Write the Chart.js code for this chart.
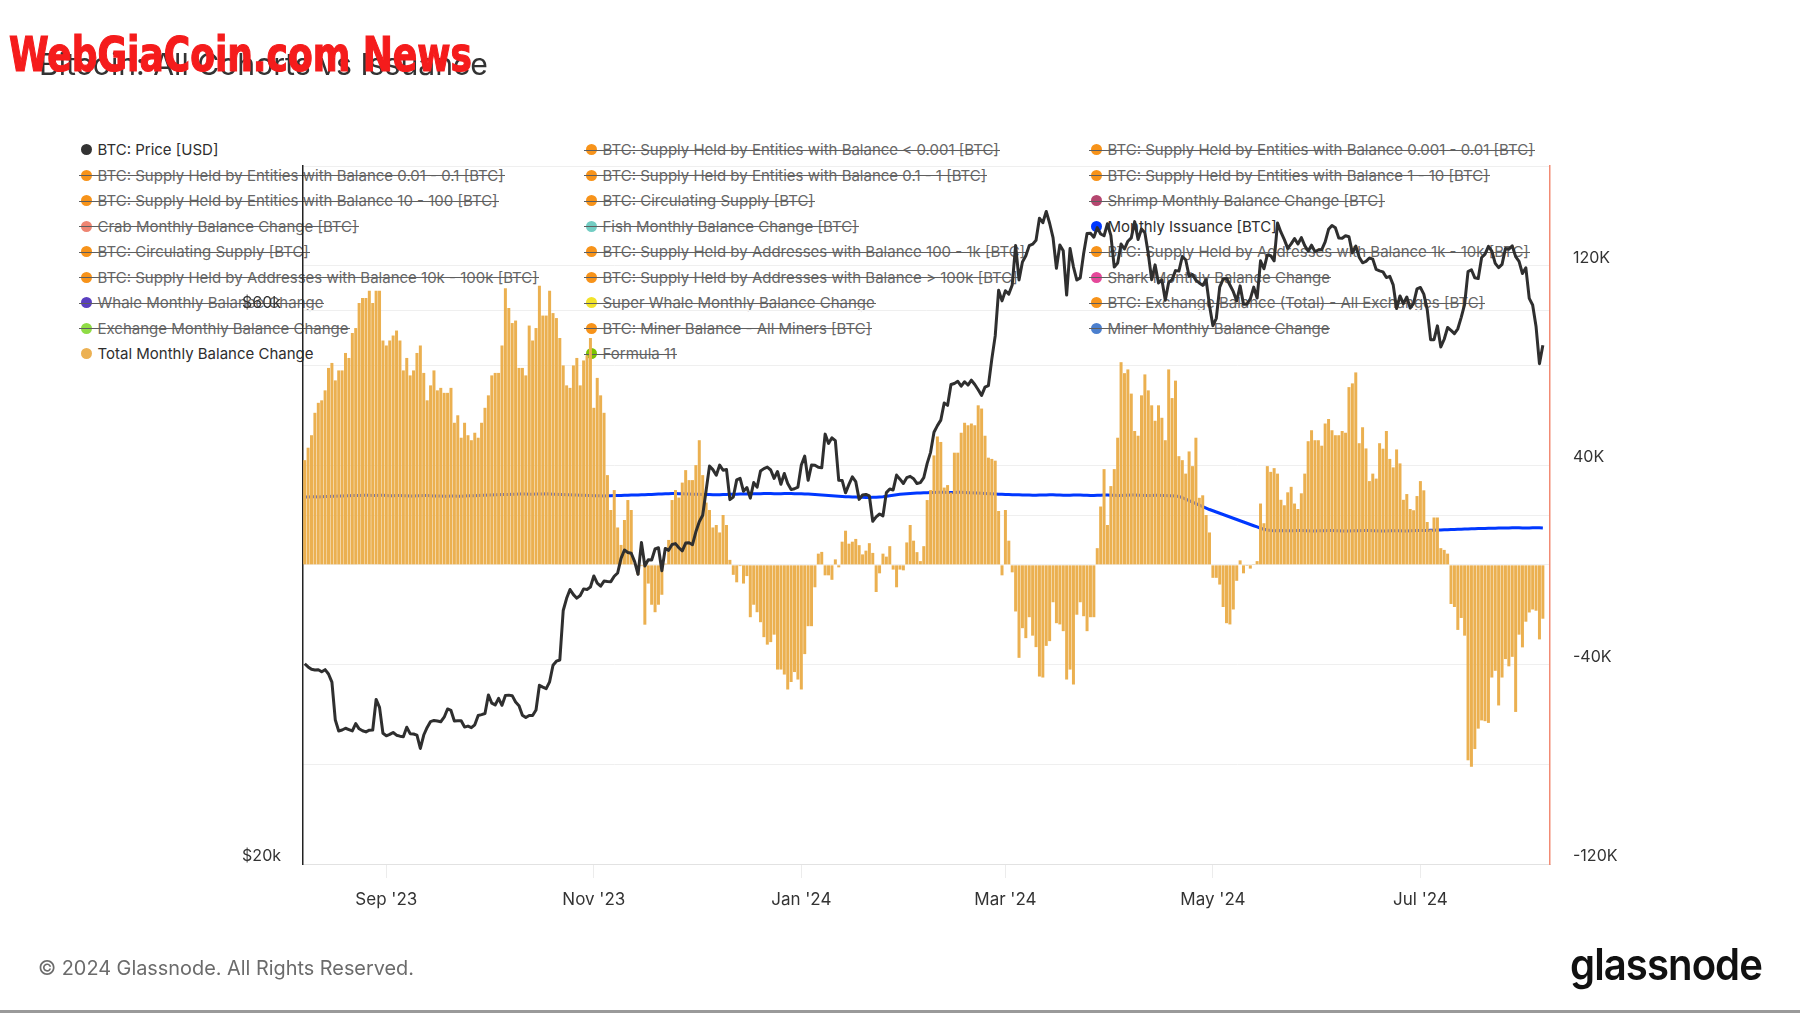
<!DOCTYPE html>
<html>
<head>
<meta charset="utf-8">
<title>Bitcoin: All Cohorts vs Issuance</title>
<script src="https://cdn.jsdelivr.net/npm/chart.js@4.4.1/dist/chart.umd.min.js"></script>
<style>
  html, body { margin: 0; padding: 0; background: #fff; }
  #page { position: relative; width: 1800px; height: 1013px; overflow: hidden; font-family: Inter, 'Noto Sans', sans-serif; }
  #legend { position: absolute; left: 0; top: 0; z-index: 1; }
  #chartBox { position: absolute; left: 0; top: 0; width: 1800px; height: 1013px; z-index: 2; }
  .item { position: absolute; height: 20px; display: flex; align-items: center; font-size: 15px; white-space: nowrap; color: #2e2e2e; }
  .item .dot { width: 11px; height: 11px; border-radius: 50%; margin-right: 6px; flex: none; }
  .item.off { color: #676767; }
  .item.off::after { content: ''; position: absolute; left: -2px; right: -1px; top: 10px; height: 1px; background: #5e5e5e; }
  #title { position: absolute; left: 39px; top: 49px; font-size: 30px; line-height: 30px; color: #333; white-space: nowrap; z-index: 3; }
  #watermark { position: absolute; left: 9px; top: 30px; font-family: 'Liberation Sans Narrow', 'DejaVu Sans Condensed', sans-serif; font-weight: bold; font-size: 48px; line-height: 48px; color: #f51c1c; -webkit-text-stroke: 1.2px #f51c1c; white-space: nowrap; transform-origin: left top; z-index: 4; }
  #footer { position: absolute; left: 38px; top: 958px; font-size: 20px; line-height: 20px; color: #6b6b6b; white-space: nowrap; z-index: 3; }
  #logo { position: absolute; left: 1570px; top: 942px; font-size: 44px; line-height: 44px; font-weight: 600; letter-spacing: -1px; color: #111; white-space: nowrap; transform-origin: left top; z-index: 3; }
  #bottomRule { position: absolute; left: 0; top: 1010px; width: 1800px; height: 3px; background: #9a9a9a; }
</style>
</head>
<body>
<div id="page">
  <div id="legend"></div>
  <div id="chartBox"><canvas id="myChart" width="1800" height="1013"></canvas></div>
  <div id="title">Bitcoin: All Cohorts vs Issuance</div>
  <div id="watermark">WebGiaCoin.com News</div>
  <div id="footer">© 2024 Glassnode. All Rights Reserved.</div>
  <div id="logo">glassnode</div>
  <div id="bottomRule"></div>
</div>
<script>
// daily values, 8 Aug 2023 -> 6 Aug 2024 (index = day)
const priceUsd = [
  // Aug '23
  29770, 29580, 29440, 29400, 29420, 29300, 29420, 29170, 28700, 26620, 26050, 26100, 26190, 26120, 26050, 26430, 26160, 26060, 26000, 26090, 26100, 27730, 27300, 25930,
  // Sep
  25800, 25870, 25970, 25830, 25780, 25750, 26240, 25910, 25890, 25830, 25160, 25840, 26230, 26540, 26600, 26570, 26530, 26770, 27210, 27130, 26570, 26580, 26580, 26250, 26300, 26220, 26370, 26860, 26910, 26970,
  // Oct
  27980, 27530, 27430, 27790, 27410, 27950, 27970, 27940, 27590, 27390, 26870, 26750, 26860, 26860, 27160, 28520, 28420, 28330, 28720, 29680, 29920, 29990, 33090, 33900, 34500, 34150, 33910, 34090, 34540, 34500, 34670,
  // Nov
  35440, 34940, 34730, 35080, 35050, 35040, 35420, 35650, 36700, 37310, 37130, 37070, 36460, 35550, 37880, 36150, 36600, 36580, 37390, 37480, 35810, 37430, 37290, 37720, 37790, 37480, 37250, 37830, 37860, 37710,
  // Dec
  38690, 39470, 39980, 41980, 44080, 43770, 43290, 44170, 43720, 43790, 41240, 41450, 42890, 43020, 41930, 42240, 41360, 42660, 42270, 43650, 43860, 43990, 43740, 43020, 43610, 42520, 43440, 42580, 42070, 42140, 42280,
  // Jan '24
  44180, 44960, 42850, 44180, 44160, 43970, 43930, 46970, 46110, 46630, 46370, 42850, 42840, 41800, 42510, 43150, 42740, 41260, 41620, 41670, 41540, 39510, 39850, 40080, 39930, 41820, 42120, 42040, 43300, 42950, 42580,
  // Feb
  43080, 43190, 42990, 42580, 42660, 43080, 44320, 45300, 47150, 47770, 48290, 49960, 49730, 51830, 51940, 52160, 51660, 52120, 51780, 52280, 51840, 51300, 50730, 51570, 51730, 54520, 57090, 62500, 61200,
  // Mar
  62440, 62030, 63170, 68330, 63800, 66110, 66930, 68300, 68500, 69020, 72120, 71480, 73100, 71400, 69400, 65300, 68390, 67600, 61910, 67910, 65490, 63780, 64060, 67230, 69960, 69990, 69450, 70780, 69890, 69650, 71330,
  // Apr
  69700, 65450, 65980, 68510, 67840, 68900, 69360, 71630, 69140, 70590, 70060, 67200, 63820, 65740, 63420, 63810, 61280, 63510, 63840, 64990, 64930, 66840, 66410, 64280, 64500, 63760, 63420, 63110, 63840, 60640,
  // May
  58250, 59120, 62890, 63890, 64030, 63160, 62330, 61190, 63050, 60790, 60790, 61450, 62900, 61550, 66270, 65230, 67050, 66940, 66270, 71450, 70140, 69120, 67930, 68530, 69260, 68510, 69390, 68300, 67580, 68360, 67490,
  // Jun
  67710, 67750, 68800, 70550, 71080, 70760, 69340, 69300, 69650, 69510, 67320, 68240, 66750, 66010, 66190, 66640, 66490, 65140, 64960, 64830, 64100, 64250, 63180, 60280, 61800, 60860, 61670, 60320, 60890, 62680,
  // Jul
  62850, 62030, 60170, 56660, 56660, 58240, 55850, 56710, 58050, 57720, 57340, 57900, 59230, 60790, 64870, 65100, 64070, 63970, 66710, 67160, 68190, 67560, 65930, 65370, 65800, 67910, 67810, 68260, 66820, 66200, 64620,
  // Aug
  65350, 61500, 60700, 58160, 54020, 56040
];

// thousands of BTC
const totalBalanceChangeK = [
  42, 47, 52, 61, 65, 66, 70, 79, 81, 74, 78, 78, 85, 83, 93, 95, 105, 107, 107, 110,
  105, 110, 110, 90, 88, 90, 92, 94, 90, 78, 83, 76, 78, 85, 88, 77, 66, 72, 78, 70,
  71, 69, 69, 71, 57, 60, 51, 57, 52, 50, 53, 51, 57, 63, 68, 76, 77, 77, 88, 111,
  103, 97, 98, 79, 79, 76, 96, 90, 95, 112, 100, 100,
  110, 101, 99, 91, 80, 72, 71, 80, 83, 72, 82, 84, 91, 63, 75, 68, 61, 36, 22, 30,
  15, 8, 18, 26, 22, 0.5, -4, -0.5, -24, -7.5, -16, -19, -16, -12, 0.5, 10, 26, 30, 27, 33,
  38, 34, 34, 40, 50, 36, 25, 22, 15, 16, 13, 20, 16, 2, -4, -7, -0.5, -7.5, -4.5, -21,
  -16, -19, -23, -29, -32, -31, -28, -42, -42, -44, -50, -47, -43, -46, -50,
  -35.8, -24.6, -24.6, -9, 4.5, 5.2, -4.2, -4.2, -6, 2.2, -1, 9.3, 13.7, 8.5, 9.3, 10.4, 7.9, 4.2, 5.7, 8.7,
  4.8, -10.9, -3.4, 4.5, 3.3, 7.5, -1.9, -9, -1.9, -2.2, 9, 16, 9.7, 5.1, 1.5, 7.5, 26, 30, 43.9, 51.5,
  49.3, 31, 32, 29, 45, 45, 53, 57, 56, 56.7, 56, 64, 62.7, 51.8, 43, 42.5, 41.8, 21.6, -4.2, 22,
  9.7, -3, -18.7, -37.3, -25.4, -29.4, -21, -28.4, -33, -44.8, -45.2, -32.5, -30.6,
  -15, -23.4, -23.9, -26.6, -46, -42, -48, -20, -15, -20.6, -26.6, -21, -21, 6.7, 23.4, 38.4, 16, 31.6, 38.4, 51,
  81.3, 76.9, 78.4, 68.7, 53.7, 51.8, 68, 76.4, 70, 64, 57.8, 64, 59, 50, 78.4, 66.9, 73.9, 43.6, 42, 36.6,
  45.5, 39.6, 51, 26.9, 27.9, 20, 13, -5.2, -5.2, -7.9, -16.9, -23.4, -23.9, -17.9, -6.4, 1.8, -3.4, -0.4, -1.5, 0.3,
  1.5, 24.6, 16.7, 39.6, 37.3, 38.8, 36.6, 26.1, 23.9, 29.1, 31.3, 24.6, 22.4, 28.7,
  36.6, 49.6, 54, 50, 50, 47.8, 56.7, 58.5, 54, 52, 52, 53.7, 53, 71.3, 72.8, 77.2, 48.8, 55.2, 46.7, 33.6,
  36.6, 34.6, 48.8, 46.6, 53.7, 42.5, 39.1, 46.3, 40.7, 26.1, 28.4, 22.4, 21.9, 27.6, 33.6, 29.9, 17.2, 14.2, 19, 19,
  6.7, 6, 4.5, -15.7, -16.9, -26.1, -21.3, -28.4, -78.4, -81, -73.9, -65.7, -62.4, -62.7, -63.4, -45.2, -42.5, -56.4, -45.2, -37.8,
  -40.7, -36.9, -59, -28, -33.1, -22.8, -19.1, -17.9, -18.4, -29.9, -21.6
];

const monthlyIssuanceK = [
  27.2, 27.2, 27.3, 27.3, 27.2, 27.3, 27.4, 27.4, 27.5, 27.5, 27.6, 27.6, 27.7, 27.7, 27.8, 27.8, 27.8, 27.9, 27.9, 27.9,
  27.8, 27.8, 27.9, 27.9, 27.8, 27.7, 27.7, 27.8, 27.8, 27.7, 27.7, 27.6, 27.6, 27.7, 27.7, 27.8, 27.8, 27.7, 27.6, 27.6,
  27.6, 27.5, 27.5, 27.6, 27.6, 27.5, 27.5, 27.6, 27.7, 27.7, 27.7, 27.8, 27.9, 27.9, 28.0, 28.0, 28.1, 28.1, 28.2, 28.2,
  28.2, 28.3, 28.3, 28.4, 28.4, 28.4, 28.3, 28.3, 28.4, 28.4, 28.4, 28.5, 28.4, 28.3, 28.3, 28.2, 28.2, 28.1, 28.1, 28.0,
  28.0, 27.9, 27.9, 27.8, 27.8, 27.7, 27.7, 27.7, 27.6, 27.7, 27.7, 27.8, 27.8, 27.8, 27.9, 27.9, 28.0, 28.0, 28.0, 28.1,
  28.1, 28.2, 28.2, 28.3, 28.4, 28.4, 28.5, 28.5, 28.6, 28.6, 28.5, 28.5, 28.4, 28.4, 28.3, 28.3, 28.3, 28.2, 28.2, 28.2,
  28.1, 28.1, 28.1, 28.2, 28.2, 28.3, 28.3, 28.3, 28.4, 28.4, 28.4, 28.5, 28.5, 28.5, 28.5, 28.6, 28.6, 28.6, 28.5, 28.5,
  28.5, 28.6, 28.6, 28.6, 28.5, 28.5, 28.5, 28.4, 28.4, 28.3, 28.2, 28.1, 28.0, 27.9, 27.8, 27.7, 27.6, 27.5, 27.4, 27.3,
  27.3, 27.2, 27.2, 27.1, 27.1, 27.0, 27.0, 27.1, 27.1, 27.2, 27.3, 27.5, 27.7, 27.9, 28.1, 28.3, 28.4, 28.5, 28.6, 28.7,
  28.8, 28.8, 28.9, 28.9, 29.0, 29.0, 29.1, 29.1, 29.1, 29.0, 29.0, 29.0, 29.1, 29.1, 29.0, 28.9, 28.9, 28.8, 28.8, 28.7,
  28.6, 28.5, 28.5, 28.4, 28.3, 28.3, 28.2, 28.2, 28.1, 28.1, 28.1, 28.0, 28.0, 28.0, 27.9, 27.9, 28.0, 28.0, 28.0, 28.1,
  28.1, 28.0, 28.0, 27.9, 27.9, 27.9, 28.0, 28.0, 28.0, 27.9, 27.9, 27.8, 27.8, 27.9, 27.9, 28.0, 28.0, 27.9, 27.9, 27.8,
  27.8, 27.9, 27.9, 28.0, 28.0, 27.9, 27.9, 27.8, 27.8, 27.8, 27.9, 27.9, 27.8, 27.8, 27.7, 27.7, 27.6, 27.4, 27.0, 26.4,
  25.8, 25.2, 24.6, 24.0, 23.4, 22.8, 22.2, 21.7, 21.2, 20.7, 20.2, 19.7, 19.2, 18.7, 18.2, 17.7, 17.2, 16.7, 16.2, 15.7,
  15.2, 14.7, 14.3, 14.0, 13.8, 13.7, 13.7, 13.8, 13.7, 13.7, 13.7, 13.7, 13.8, 13.8, 13.7, 13.7, 13.6, 13.6, 13.7, 13.7,
  13.7, 13.8, 13.8, 13.7, 13.7, 13.6, 13.6, 13.6, 13.7, 13.7, 13.7, 13.8, 13.8, 13.8, 13.7, 13.7, 13.6, 13.6, 13.6, 13.7,
  13.7, 13.7, 13.7, 13.6, 13.6, 13.7, 13.7, 13.8, 13.8, 13.8, 13.8, 13.9, 13.9, 14.0, 14.0, 14.1, 14.1, 14.2, 14.2, 14.3,
  14.3, 14.4, 14.4, 14.5, 14.5, 14.6, 14.6, 14.6, 14.7, 14.7, 14.7, 14.8, 14.8, 14.8, 14.8, 14.9, 14.9, 14.9, 14.8, 14.8,
  14.8, 14.9, 14.9, 14.9, 14.8
];

// x ticks (day index of the 1st of the month)
const tickDays = [24, 85, 146, 206, 267, 328];
const tickLabels = ["Sep '23", "Nov '23", "Jan '24", "Mar '24", "May '24", "Jul '24"];
const priceTicks = [20000, 40000, 60000, 80000];
const priceTickLabels = ['$20k', '', '$60k', ''];
const btcTicks = [-120, -80, -40, 0, 40, 80, 120, 160];
const btcTickLabels = ['-120K', '', '-40K', '', '40K', '', '120K', ''];

// legend, 3 columns, read row by row
const legendNames = [
  'BTC: Price [USD]', 'BTC: Supply Held by Entities with Balance < 0.001 [BTC]', 'BTC: Supply Held by Entities with Balance 0.001 - 0.01 [BTC]',
  'BTC: Supply Held by Entities with Balance 0.01 - 0.1 [BTC]', 'BTC: Supply Held by Entities with Balance 0.1 - 1 [BTC]', 'BTC: Supply Held by Entities with Balance 1 - 10 [BTC]',
  'BTC: Supply Held by Entities with Balance 10 - 100 [BTC]', 'BTC: Circulating Supply [BTC]', 'Shrimp Monthly Balance Change [BTC]',
  'Crab Monthly Balance Change [BTC]', 'Fish Monthly Balance Change [BTC]', 'Monthly Issuance [BTC]',
  'BTC: Circulating Supply [BTC]', 'BTC: Supply Held by Addresses with Balance 100 - 1k [BTC]', 'BTC: Supply Held by Addresses with Balance 1k - 10k [BTC]',
  'BTC: Supply Held by Addresses with Balance 10k - 100k [BTC]', 'BTC: Supply Held by Addresses with Balance > 100k [BTC]', 'Shark Monthly Balance Change',
  'Whale Monthly Balance Change', 'Super Whale Monthly Balance Change', 'BTC: Exchange Balance (Total) - All Exchanges [BTC]',
  'Exchange Monthly Balance Change', 'BTC: Miner Balance - All Miners [BTC]', 'Miner Monthly Balance Change',
  'Total Monthly Balance Change', 'Formula 11'
];
const legendColors = [
  '#333333', '#f7931a', '#f7931a',
  '#f7931a', '#f7931a', '#f7931a',
  '#f7931a', '#f7931a', '#b5466f',
  '#ee8572', '#72cdc3', '#0038ff',
  '#f7931a', '#f7931a', '#f7931a',
  '#f7931a', '#f7931a', '#e5489a',
  '#5a3fc0', '#f2e32a', '#f7931a',
  '#8fdc45', '#f7931a', '#4b7fce',
  '#ecb153', '#7cc300'
];
const legendShown = [0, 11, 24];

const legendColX = [86, 591, 1096];
const legendRowY0 = 149.5;
const legendRowStep = 25.5;

const legendEl = document.getElementById('legend');
legendNames.forEach((name, i) => {
  const item = document.createElement('div');
  item.className = 'item' + (legendShown.includes(i) ? '' : ' off');
  item.style.left = (legendColX[i % 3] - 5.5) + 'px';
  item.style.top = (legendRowY0 + Math.floor(i / 3) * legendRowStep - 10) + 'px';
  const dot = document.createElement('span');
  dot.className = 'dot';
  dot.style.background = legendColors[i];
  const txt = document.createElement('span');
  txt.textContent = name;
  item.appendChild(dot);
  item.appendChild(txt);
  legendEl.appendChild(item);
});

// squeeze / stretch text boxes to the widths seen in the picture
function fitWidth(id, w) {
  const el = document.getElementById(id);
  const r = el.getBoundingClientRect().width;
  el.style.transform = 'scaleX(' + (w / r) + ')';
}
function fitFont(id, w) {
  const el = document.getElementById(id);
  const r = el.getBoundingClientRect().width;
  const size = parseFloat(getComputedStyle(el).fontSize);
  el.style.fontSize = (size * w / r).toFixed(2) + 'px';
}
fitWidth('watermark', 463);
fitWidth('logo', 192);
fitFont('title', 449);
fitFont('footer', 376);

const toPoints = arr => arr.map((v, i) => ({ x: i, y: v }));

Chart.defaults.font.family = 'Inter';

const ctx = document.getElementById('myChart');

new Chart(ctx, {
  data: {
    datasets: [
      {
        type: 'line',
        label: 'BTC: Price [USD]',
        data: toPoints(priceUsd),
        yAxisID: 'yPrice',
        borderColor: '#2f2f2f',
        borderWidth: 3,
        pointRadius: 0,
        tension: 0,
        borderJoinStyle: 'round',
        order: 0
      },
      {
        type: 'bar',
        label: 'Total Monthly Balance Change',
        data: toPoints(totalBalanceChangeK),
        yAxisID: 'yBtc',
        backgroundColor: '#ebb050',
        borderWidth: 0,
        barPercentage: 0.88,
        categoryPercentage: 1,
        order: 1
      },
      {
        type: 'line',
        label: 'Monthly Issuance [BTC]',
        data: toPoints(monthlyIssuanceK),
        yAxisID: 'yBtc',
        borderColor: '#0038ff',
        borderWidth: 3,
        pointRadius: 0,
        tension: 0,
        order: 2
      }
    ]
  },
  options: {
    responsive: false,
    animation: false,
    devicePixelRatio: 1,
    layout: { padding: { top: 166, left: 0, right: 0, bottom: 0 } },
    plugins: {
      legend: { display: false },
      tooltip: { enabled: false }
    },
    scales: {
      x: {
        type: 'linear',
        min: -0.5,
        max: 366.1,
        offset: false,
        afterBuildTicks: s => { s.ticks = tickDays.map(v => ({ value: v })); },
        afterFit: s => { s.height = 149; },
        ticks: {
          autoSkip: false,
          maxRotation: 0,
          padding: 12,
          color: '#333',
          font: { size: 17 },
          callback: (v, i) => tickLabels[i]
        },
        grid: { drawOnChartArea: false, drawTicks: true, tickLength: 14, tickColor: '#ececec', offset: false },
        border: { display: true, color: '#e2e2e2', width: 1 }
      },
      yPrice: {
        type: 'logarithmic',
        position: 'left',
        min: 20000,
        max: 80000,
        afterBuildTicks: s => { s.ticks = priceTicks.map(v => ({ value: v })); },
        afterFit: s => { s.width = 303; },
        ticks: {
          padding: 22,
          labelOffset: -7.5,
          color: '#333',
          font: { size: 16 },
          callback: (v, i) => priceTickLabels[i]
        },
        grid: { color: '#efefef', drawTicks: false },
        border: { color: '#222', width: 1.5 }
      },
      yBtc: {
        type: 'linear',
        position: 'right',
        min: -120,
        max: 160,
        afterBuildTicks: s => { s.ticks = btcTicks.map(v => ({ value: v })); },
        afterFit: s => { s.width = 250; },
        ticks: {
          padding: 23,
          labelOffset: -7.5,
          color: '#333',
          font: { size: 16 },
          callback: (v, i) => btcTickLabels[i]
        },
        grid: { color: '#efefef', drawTicks: false },
        border: { color: '#f28b74', width: 1.5 }
      }
    }
  }
});
</script>
</body>
</html>
